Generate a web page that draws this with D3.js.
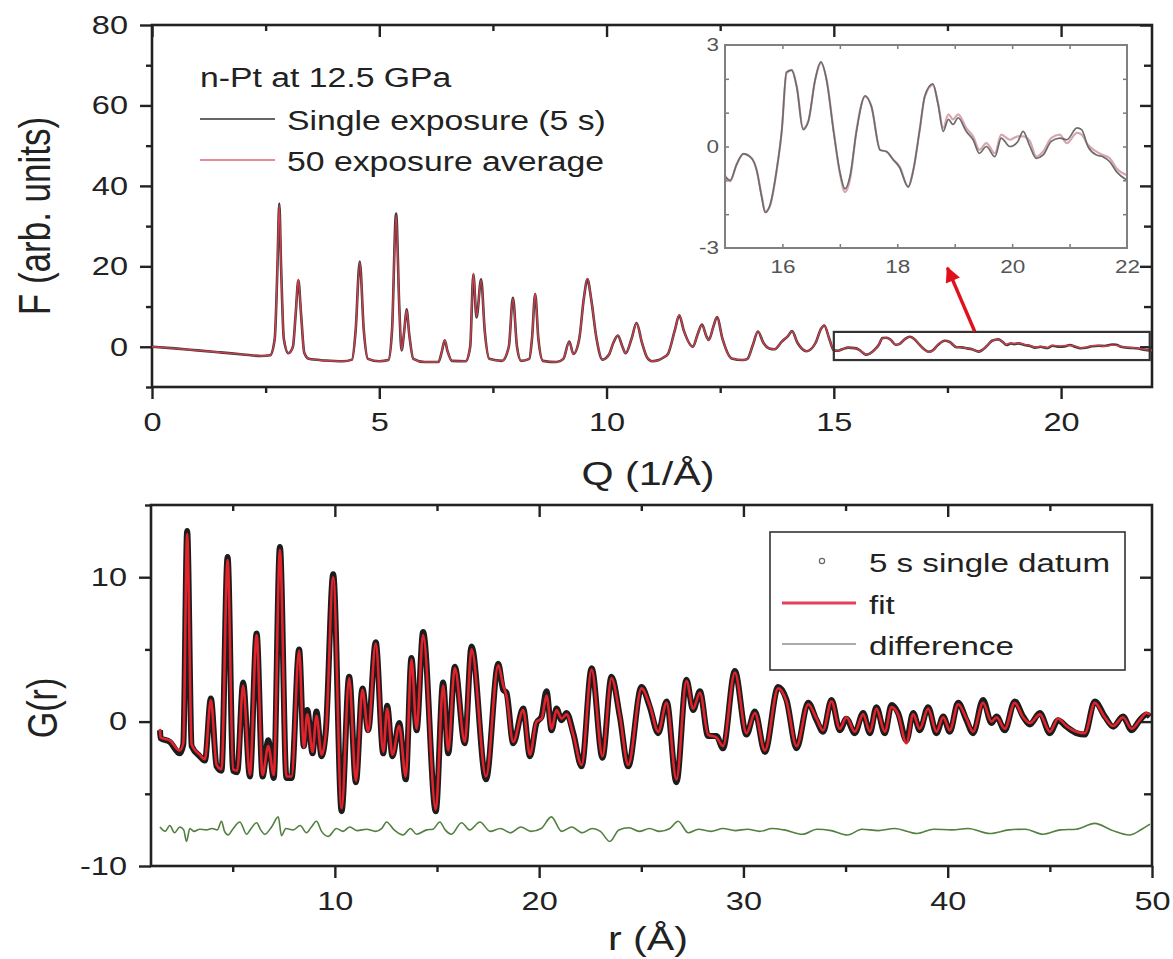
<!DOCTYPE html>
<html><head><meta charset="utf-8">
<script src="https://cdn.jsdelivr.net/npm/d3@7"></script>
<style>
body{margin:0;background:#fff;}
svg{display:block;}
</style></head><body>
<svg id="chart" width="1173" height="959"></svg>
<script>
// ---------------- DATA ----------------
// Top panel: F(Q)
const qVals = [0,0.5,1.0,1.5,2.0,2.4,2.6,2.7,2.76,2.8,
2.84,2.9,3.0,3.1,3.16,3.22,3.28,3.35,3.45,3.8,
4.2,4.4,4.48,4.57,4.66,4.75,5.0,5.2,5.28,5.37,
5.44,5.49,5.55,5.6,5.66,5.75,6.0,6.3,6.38,6.44,
6.5,6.6,6.9,7.0,7.07,7.14,7.24,7.32,7.42,7.7,
7.85,7.94,8.03,8.12,8.3,8.36,8.43,8.5,8.6,8.9,
9.05,9.18,9.27,9.4,9.5,9.58,9.66,9.78,9.91,10.05,
10.15,10.25,10.35,10.42,10.55,10.66,10.78,10.9,11.0,11.15,
11.26,11.35,11.5,11.6,11.7,11.9,12.0,12.1,12.2,12.25,
12.35,12.43,12.55,12.75,13.0,13.1,13.22,13.33,13.45,13.58,
13.7,13.85,14.0,14.08,14.2,14.4,14.6,14.72,14.79,14.9,
15.0,15.09,15.2,15.32,15.46,15.55,15.64,15.7,15.78,15.9,
15.99,16.07,16.16,16.25,16.36,16.45,16.57,16.67,16.77,16.89,
17.0,17.09,17.18,17.29,17.44,17.55,17.7,17.81,17.93,18.04,
18.19,18.28,18.39,18.48,18.62,18.71,18.8,18.89,18.97,19.06,
19.2,19.32,19.43,19.55,19.7,19.81,19.96,20.1,20.19,20.31,
20.42,20.54,20.68,20.83,20.95,21.13,21.21,21.32,21.47,21.58,
21.7,21.82,22.0];
const fAverage = [0,-0.4,-0.9,-1.4,-1.9,-2.3,-2.1,2,20,35.2,
20,2,-1.6,0,8,16.8,8,-1.5,-3.0,-3.4,
-3.6,-3.2,4,21,4,-3.0,-3.6,-3.3,4,32.8,
10,-0.8,4,9.1,3,-3.0,-3.8,-3.8,-1,1.7,
-1,-3.5,-3.6,0,18.3,7.5,16.6,4,-3.0,-3.5,
0,12,0,-3.5,-3.0,2,13.3,2,-3.5,-3.8,
-3,1.2,-1.8,2,12,17,12,2,-3.2,-2,
1,2.9,0,-1.6,2,5.8,1,-2.8,-3.6,-3.3,
-2.6,-1.8,4,7.9,4,0,3,5.4,2.5,1.7,
5,7.5,2,-2.9,-3.3,-3.0,0.5,3.9,1,-0.4,
-0.6,1.2,2.8,3.9,1,-1.1,1,4.5,5.4,2,
-0.85,-1.03,-0.54,-0.22,-0.34,-0.69,-1.47,-1.92,-1.77,-0.69,
0.49,2.16,2.26,1.77,0.54,0.74,1.97,2.46,1.97,0.49,
-0.79,-1.35,-0.95,0.49,1.47,1.18,-0.1,-0.15,-0.39,-0.59,
-1.18,-0.69,0.49,1.47,1.82,1.28,0.55,0.95,0.8,0.95,
0.55,0.3,-0.1,0.1,-0.2,0.35,0.2,0.3,0.3,0.15,
-0.3,-0.15,0.25,0.35,0.1,0.4,0.35,0.05,-0.15,-0.25,
-0.35,-0.65,-0.85];
const fSingle = [0,-0.4,-0.9,-1.4,-1.9,-2.3,-2.1,2,20,35.6,
20,2,-1.6,0,8,16.5,8,-1.5,-3.0,-3.4,
-3.6,-3.2,4,21.2,4,-3.0,-3.6,-3.3,4,33.1,
10,-0.9,4,9.3,3,-3.0,-3.8,-3.8,-1,1.6,
-1,-3.5,-3.6,0,18.0,7.3,16.8,4,-3.0,-3.5,
0,12.2,0,-3.5,-3.0,2,13.1,2,-3.5,-3.8,
-3,1.3,-1.8,2,12,16.8,12,2,-3.2,-2,
1,2.8,0,-1.6,2,5.9,1,-2.8,-3.6,-3.3,
-2.6,-1.8,4,7.8,4,0,3,5.5,2.5,1.7,
5,7.4,2,-2.9,-3.3,-3.0,0.5,3.8,1,-0.4,
-0.6,1.2,2.8,3.9,1,-1.1,1,4.5,5.3,2,
-0.9,-1.0,-0.54,-0.22,-0.34,-0.69,-1.5,-1.95,-1.75,-0.69,
0.49,2.2,2.26,1.75,0.5,0.74,1.97,2.5,1.95,0.45,
-0.75,-1.25,-0.85,0.45,1.5,1.18,-0.1,-0.15,-0.39,-0.62,
-1.2,-0.69,0.49,1.5,1.85,1.25,0.45,0.8,0.65,0.85,
0.45,0.2,-0.2,0.0,-0.3,0.25,0.0,0.15,0.45,0.0,
-0.35,-0.25,0.15,0.25,0.2,0.55,0.5,0.0,-0.25,-0.3,
-0.45,-0.75,-1.0];

// Bottom panel: G(r)
const rVals = [1.44,1.47,1.92,2.41,2.58,2.77,2.99,3.39,3.64,3.93,
4.21,4.45,4.75,5.02,5.22,5.51,5.84,6.17,6.46,6.74,
7.01,7.31,7.63,7.88,8.25,8.48,8.65,8.91,9.10,9.35,
9.56,9.92,10.33,10.70,11.03,11.35,11.63,12.00,12.37,12.56,
12.82,13.15,13.47,13.75,14.00,14.32,14.94,15.30,15.55,15.87,
16.36,16.69,17.4,18.0,18.24,18.4,18.73,19.22,19.55,19.87,
20.12,20.36,20.61,20.85,21.1,21.34,21.67,22.08,22.57,23.1,
23.54,23.95,24.36,25.01,25.42,25.83,26.24,26.72,27.21,27.54,
27.87,28.27,28.68,29.0,29.58,30.15,30.56,31.05,31.7,32.11,
32.6,33.17,33.58,33.9,34.31,34.72,35.04,35.45,35.86,36.19,
36.51,36.92,37.25,37.57,37.98,38.31,38.63,39.04,39.45,39.78,
40.1,40.51,40.92,41.24,41.73,42.14,42.39,42.79,43.28,43.69,
44.02,44.51,45.0,45.4,45.81,46.3,46.71,47.2,47.69,48.1,
48.58,49.0,49.4,49.73,49.9];
const gDatum = [-0.6,-1.15,-1.4,-2.2,-1.6,13.2,-1.7,-2.4,-2.7,1.6,
-3.1,-3.4,11.4,-3.4,-3.5,2.7,-3.8,6.1,-3.8,-1.3,
-3.9,12.1,-3.9,-3.9,5.0,-1.7,0.8,-2.2,0.7,-2.4,
-0.6,10.2,-6.2,3.1,-4.2,2.3,-0.6,5.5,-2.2,1.1,
-2.4,-0.1,-4.0,4.4,-0.6,6.2,-6.2,2.7,-2.2,3.8,
-1.5,5.2,-4.0,4.0,2.2,2.0,-1.5,0.9,-2.4,-0.1,
0.35,2.1,-0.6,0.9,0.1,0.6,-0.8,-3.1,3.7,-2.5,
3.1,0.35,-3.1,2.4,1.0,-0.8,1.4,-4.2,2.9,0.8,
2.1,-1.0,-1.0,-1.85,3.5,-0.9,0.7,-2.1,2.4,1.5,
-1.85,1.3,0.1,-0.7,1.5,-0.6,0.2,-0.8,0.6,-0.8,
1.0,-0.8,1.15,0.6,-1.3,0.6,-0.6,1.0,-0.8,0.35,
-0.7,1.3,0.1,-0.8,1.5,-0.1,0.35,-0.6,1.4,0.35,
-0.2,0.6,-0.8,0.1,-0.35,-0.8,-0.9,1.4,0.35,-0.35,
0.35,-0.6,0.1,0.5,0.35];
const gFit = [-0.5,-1.1,-1.3,-2.0,-1.5,13.0,-1.6,-2.3,-2.6,1.5,
-3.0,-3.3,11.2,-3.3,-3.4,2.5,-3.7,6.0,-3.7,-1.7,
-3.7,11.9,-3.8,-3.8,4.9,-1.8,0.5,-2.1,0.4,-2.3,
-0.8,10.0,-6.0,3.0,-4.1,2.2,-0.7,5.4,-2.1,0.9,
-2.3,-0.3,-3.8,4.3,-0.5,6.0,-6.1,2.5,-2.0,3.7,
-1.4,5.0,-3.8,3.9,2.5,1.8,-1.4,0.8,-2.3,0.0,
0.2,1.8,-0.5,0.8,0.2,0.5,-0.9,-3.0,3.6,-2.4,
3.0,0.4,-3.0,2.3,1.1,-0.7,1.3,-4.0,2.8,0.9,
2.0,-0.9,-1.1,-1.7,3.4,-0.8,0.6,-2.0,2.3,1.4,
-1.7,1.2,0.2,-0.6,1.4,-0.5,0.3,-0.7,0.5,-0.7,
0.9,-0.7,1.0,0.5,-1.5,0.5,-0.5,0.9,-0.7,0.3,
-0.6,1.2,0.2,-0.7,1.3,0.0,0.3,-0.5,1.3,0.3,
-0.1,0.5,-0.7,0.2,-0.3,-0.7,-0.8,1.3,0.3,-0.3,
0.3,-0.5,0.1,0.6,0.5];
const rDiff = [1.44,1.7,1.92,2.15,2.41,2.6,2.74,2.9,3.1,3.39,
3.7,4.0,4.25,4.45,4.6,4.78,5.0,5.35,5.68,5.9,
6.17,6.37,6.57,6.9,7.23,7.39,7.6,7.96,8.3,8.61,
8.85,9.1,9.35,9.67,10.08,10.4,10.73,11.1,11.55,12.0,
12.3,12.53,12.9,13.34,13.7,14.0,14.49,14.8,15.14,15.4,
15.71,16.2,16.6,17.1,17.6,18.1,18.6,19.1,19.6,20.1,
20.6,21.1,21.6,22.1,22.6,23.0,23.46,23.9,24.4,24.9,
25.4,25.9,26.4,26.8,27.3,27.8,28.4,29.0,29.6,30.2,
30.8,31.4,32.0,32.9,33.6,34.3,35.1,35.8,36.6,37.4,
38.5,39.3,40.2,41.0,42.06,43.0,43.8,44.67,45.5,46.3,
47.2,48.0,48.9,49.5,49.9];
const gDiff = [-7.3,-7.6,-7.2,-7.7,-7.3,-7.5,-8.3,-7.4,-7.6,-7.45,
-7.5,-7.4,-7.5,-6.9,-7.6,-7.85,-7.45,-6.95,-7.8,-7.4,
-7.0,-7.5,-7.8,-7.3,-6.6,-7.9,-7.4,-7.5,-7.2,-7.7,
-7.3,-6.9,-7.6,-7.95,-7.4,-7.6,-7.3,-7.55,-7.45,-7.6,
-7.4,-6.95,-7.5,-7.85,-7.4,-7.8,-7.5,-7.45,-6.95,-7.5,
-7.8,-7.0,-7.5,-6.95,-7.6,-7.4,-7.7,-7.3,-7.6,-7.4,
-6.6,-7.6,-7.3,-7.7,-7.4,-7.6,-8.3,-7.5,-7.35,-7.6,
-7.4,-7.6,-7.4,-6.9,-7.7,-7.45,-7.6,-7.4,-7.55,-7.45,
-7.6,-7.4,-7.5,-7.8,-7.45,-7.55,-7.85,-7.45,-7.55,-7.4,
-7.75,-7.45,-7.5,-7.4,-7.75,-7.5,-7.45,-7.8,-7.5,-7.45,
-7.05,-7.5,-7.85,-7.45,-7.1];

// ticks
const qMajor = [0,5,10,15,20], qMinor = [2.5,7.5,12.5,17.5];
const fMajor = [0,20,40,60,80], fMinor = [-10,10,30,50,70];
const insetXLabels = [16,18,20,22], insetXTicks = [16,17,18,19,20,21];
const insetYLabels = [-3,0,3], insetYTicks = [-2,-1,0,1,2];
const rMajor = [10,20,30,40,50], rMinor = [5,15,25,35,45];
const gMajor = [-10,0,10], gMinor = [-5,5,15];
// zoom box & arrow (data coords of main F(Q) panel)
const zoomBoxQ = [15, 21.95], zoomBoxF = [-3.3, 3.7];
const arrowFrom = [18.1, 3.8], arrowTo = [17.5, 19.6];

// ---------------- DRAWING ----------------
const SX = 1.25; // horizontal stretch of the original figure's lettering
const FONT = '"Liberation Sans", Arial, Helvetica, sans-serif';
const INK = "#222";
const svg = d3.select("#chart").attr("font-family", FONT);
const defs = svg.append("defs");

const fmt = d => String(d);

function addText(parent, x, y, str, size, opt = {}) {
  return parent.append("text")
    .attr("transform", `translate(${x},${y}) scale(${SX},1)` + (opt.rotate ? ` rotate(${opt.rotate})` : ""))
    .attr("font-size", size)
    .attr("text-anchor", opt.anchor || "start")
    .attr("fill", opt.fill || INK)
    .text(str);
}
function styleAxis(g, opt = {}) {
  g.select(".domain").remove();
  g.selectAll(".tick line").attr("stroke", opt.stroke || INK).attr("stroke-width", opt.sw || 2.4);
  g.selectAll(".tick text").attr("font-size", opt.fs || 26).attr("fill", opt.fill || INK)
    .attr("font-family", FONT);
}
function hText(g) { g.selectAll(".tick text").attr("transform", `scale(${SX},1)`); }
function vText(g, off) { g.selectAll(".tick text").attr("x", off / SX).attr("transform", `scale(${SX},1)`); }

// ===== TOP PANEL =====
const T = {l:152, r:1152, t:25, b:387};
const xQ = d3.scaleLinear().domain([0,22]).range([T.l, T.r]);
const yF = d3.scaleLinear().domain([-10,80]).range([T.b, T.t]);
const topG = svg.append("g");

topG.append("g").attr("transform", `translate(0,${T.b})`)
  .call(d3.axisBottom(xQ).tickValues(qMajor).tickSize(12).tickSizeOuter(0).tickPadding(14).tickFormat(fmt))
  .call(styleAxis).call(hText);
topG.append("g").attr("transform", `translate(0,${T.b})`)
  .call(d3.axisBottom(xQ).tickValues(qMinor).tickSize(6).tickSizeOuter(0).tickFormat(""))
  .call(styleAxis);
topG.append("g").attr("transform", `translate(0,${T.t})`)
  .call(d3.axisTop(xQ).tickValues(qMajor).tickSize(-12).tickSizeOuter(0).tickFormat(""))
  .call(styleAxis);
topG.append("g").attr("transform", `translate(0,${T.t})`)
  .call(d3.axisTop(xQ).tickValues(qMinor).tickSize(-6).tickSizeOuter(0).tickFormat(""))
  .call(styleAxis);
topG.append("g").attr("transform", `translate(${T.l},0)`)
  .call(d3.axisLeft(yF).tickValues(fMajor).tickSize(12).tickSizeOuter(0).tickFormat(fmt))
  .call(styleAxis).call(g => vText(g, -24));
topG.append("g").attr("transform", `translate(${T.l},0)`)
  .call(d3.axisLeft(yF).tickValues(fMinor).tickSize(6).tickSizeOuter(0).tickFormat(""))
  .call(styleAxis);
topG.append("g").attr("transform", `translate(${T.r},0)`)
  .call(d3.axisRight(yF).tickValues(fMajor).tickSize(-12).tickSizeOuter(0).tickFormat(""))
  .call(styleAxis);
topG.append("g").attr("transform", `translate(${T.r},0)`)
  .call(d3.axisRight(yF).tickValues(fMinor.filter(v => v > -10)).tickSize(-8).tickSizeOuter(0).tickFormat(""))
  .call(styleAxis);
topG.append("rect").attr("x", T.l).attr("y", T.t).attr("width", T.r - T.l).attr("height", T.b - T.t)
  .attr("fill", "none").attr("stroke", INK).attr("stroke-width", 2.6);

const lineF = arr => d3.line().x((d, i) => xQ(qVals[i])).y(d => yF(d)).curve(d3.curveMonotoneX)(arr);
topG.append("path").attr("d", lineF(fSingle)).attr("fill", "none").attr("stroke", "#3a3a3a").attr("stroke-width", 2.6);
topG.append("path").attr("d", lineF(fAverage)).attr("fill", "none").attr("stroke", "#d63c4c").attr("stroke-width", 1.4);

// zoom box
topG.append("rect").attr("x", xQ(zoomBoxQ[0])).attr("y", yF(zoomBoxF[1]))
  .attr("width", xQ(zoomBoxQ[1]) - xQ(zoomBoxQ[0])).attr("height", yF(zoomBoxF[0]) - yF(zoomBoxF[1]))
  .attr("fill", "none").attr("stroke", "#333").attr("stroke-width", 2.2);

// arrow
defs.append("marker").attr("id", "ah").attr("viewBox", "0 0 10 10").attr("refX", 9).attr("refY", 5)
  .attr("markerWidth", 5.5).attr("markerHeight", 4.5).attr("orient", "auto").attr("markerUnits", "strokeWidth")
  .append("path").attr("d", "M0,0 L10,5 L0,10 z").attr("fill", "#e0101c");
topG.append("line").attr("x1", xQ(arrowFrom[0])).attr("y1", yF(arrowFrom[1]))
  .attr("x2", xQ(arrowTo[0])).attr("y2", yF(arrowTo[1]))
  .attr("stroke", "#e0101c").attr("stroke-width", 3.4).attr("marker-end", "url(#ah)");

// legend (top)
addText(topG, 200, 87, "n-Pt at 12.5 GPa", 27);
topG.append("line").attr("x1", 200).attr("x2", 275).attr("y1", 119).attr("y2", 119).attr("stroke", "#333").attr("stroke-width", 1.6);
addText(topG, 287, 130, "Single exposure (5 s)", 27);
topG.append("line").attr("x1", 200).attr("x2", 275).attr("y1", 160).attr("y2", 160).attr("stroke", "#e06272").attr("stroke-width", 1.6);
addText(topG, 287, 171, "50 exposure average", 27);

// axis titles
addText(topG, 648, 485, "Q (1/Å)", 33, {anchor: "middle"});
addText(topG, 50, 216, "F (arb. units)", 35, {anchor: "middle", rotate: -90});

// ===== INSET =====
const I = {l:725, r:1127, t:45, b:248};
const xI = d3.scaleLinear().domain([15,22]).range([I.l, I.r]);
const yI = d3.scaleLinear().domain([-3,3]).range([I.b, I.t]);
const inset = svg.append("g");
inset.append("rect").attr("x", I.l).attr("y", I.t).attr("width", I.r - I.l).attr("height", I.b - I.t).attr("fill", "#fff");
const GR = "#7a7a7a";
const iax = (gen, tr) => inset.append("g").attr("transform", tr).call(gen);
iax(d3.axisBottom(xI).tickValues(insetXTicks).tickSize(-4).tickSizeOuter(0).tickFormat(""), `translate(0,${I.b})`).call(g => styleAxis(g, {stroke: GR, sw: 1.5}));
iax(d3.axisTop(xI).tickValues(insetXTicks).tickSize(-4).tickSizeOuter(0).tickFormat(""), `translate(0,${I.t})`).call(g => styleAxis(g, {stroke: GR, sw: 1.5}));
iax(d3.axisLeft(yI).tickValues(insetYTicks).tickSize(-4).tickSizeOuter(0).tickFormat(""), `translate(${I.l},0)`).call(g => styleAxis(g, {stroke: GR, sw: 1.5}));
iax(d3.axisRight(yI).tickValues(insetYTicks).tickSize(-4).tickSizeOuter(0).tickFormat(""), `translate(${I.r},0)`).call(g => styleAxis(g, {stroke: GR, sw: 1.5}));
iax(d3.axisBottom(xI).tickValues(insetXLabels).tickSize(0).tickSizeOuter(0).tickPadding(12).tickFormat(fmt), `translate(0,${I.b})`)
  .call(g => styleAxis(g, {fs: 18, fill: "#555"})).call(hText);
iax(d3.axisLeft(yI).tickValues(insetYLabels).tickSize(0).tickSizeOuter(0).tickFormat(fmt), `translate(${I.l},0)`)
  .call(g => styleAxis(g, {fs: 18, fill: "#555"})).call(g => vText(g, -6));

const idx = qVals.map((q, i) => i).filter(i => qVals[i] >= 15);
const lineI = arr => d3.line().x(i => xI(qVals[i])).y(i => yI(arr[i])).curve(d3.curveMonotoneX)(idx);
inset.append("path").attr("d", lineI(fAverage)).attr("fill", "none").attr("stroke", "#d8a6ae").attr("stroke-width", 2.2);
inset.append("path").attr("d", lineI(fSingle)).attr("fill", "none").attr("stroke", "#6c6c6c").attr("stroke-width", 1.7);
inset.append("rect").attr("x", I.l).attr("y", I.t).attr("width", I.r - I.l).attr("height", I.b - I.t)
  .attr("fill", "none").attr("stroke", "#808080").attr("stroke-width", 2);

// ===== BOTTOM PANEL =====
const B = {l:151, r:1152, t:505, b:866};
const xR = d3.scaleLinear().domain([1,50]).range([B.l, B.r]);
const yG = d3.scaleLinear().domain([-10,15]).range([B.b, B.t]);
const bot = svg.append("g");

bot.append("g").attr("transform", `translate(0,${B.b})`)
  .call(d3.axisBottom(xR).tickValues(rMajor).tickSize(12).tickSizeOuter(0).tickPadding(14).tickFormat(fmt))
  .call(styleAxis).call(hText);
bot.append("g").attr("transform", `translate(0,${B.b})`)
  .call(d3.axisBottom(xR).tickValues(rMinor).tickSize(6).tickSizeOuter(0).tickFormat(""))
  .call(styleAxis);
bot.append("g").attr("transform", `translate(0,${B.t})`)
  .call(d3.axisTop(xR).tickValues(rMajor.filter(v => v < 50)).tickSize(-12).tickSizeOuter(0).tickFormat(""))
  .call(styleAxis);
bot.append("g").attr("transform", `translate(0,${B.t})`)
  .call(d3.axisTop(xR).tickValues(rMinor).tickSize(-6).tickSizeOuter(0).tickFormat(""))
  .call(styleAxis);
bot.append("g").attr("transform", `translate(${B.l},0)`)
  .call(d3.axisLeft(yG).tickValues(gMajor).tickSize(12).tickSizeOuter(0).tickFormat(fmt))
  .call(styleAxis).call(g => vText(g, -24));
bot.append("g").attr("transform", `translate(${B.l},0)`)
  .call(d3.axisLeft(yG).tickValues(gMinor).tickSize(6).tickSizeOuter(0).tickFormat(""))
  .call(styleAxis);
bot.append("g").attr("transform", `translate(${B.r},0)`)
  .call(d3.axisRight(yG).tickValues([0,10]).tickSize(-12).tickSizeOuter(0).tickFormat(""))
  .call(styleAxis);
bot.append("g").attr("transform", `translate(${B.r},0)`)
  .call(d3.axisRight(yG).tickValues([-5,5]).tickSize(-8).tickSizeOuter(0).tickFormat(""))
  .call(styleAxis);

const lineG = (xs, ys) => d3.line().x((d, i) => xR(xs[i])).y(d => yG(d)).curve(d3.curveMonotoneX)(ys);
bot.append("path").attr("d", lineG(rDiff, gDiff)).attr("fill", "none").attr("stroke", "#52803f").attr("stroke-width", 1.6);
bot.append("path").attr("d", lineG(rVals, gDatum)).attr("fill", "none").attr("stroke", "#1c1c1c")
  .attr("stroke-width", 6).attr("stroke-linejoin", "round");
bot.append("path").attr("d", lineG(rVals, gFit)).attr("fill", "none").attr("stroke", "#e3232c")
  .attr("stroke-width", 2.6).attr("stroke-linejoin", "round");

bot.append("rect").attr("x", B.l).attr("y", B.t).attr("width", B.r - B.l).attr("height", B.b - B.t)
  .attr("fill", "none").attr("stroke", INK).attr("stroke-width", 2.6);

// legend (bottom)
const lg = bot.append("g");
lg.append("rect").attr("x", 770).attr("y", 532).attr("width", 355).attr("height", 138)
  .attr("fill", "#fff").attr("stroke", "#333").attr("stroke-width", 1.6);
lg.append("circle").attr("cx", 822).attr("cy", 561).attr("r", 2.6).attr("fill", "none").attr("stroke", "#666").attr("stroke-width", 1.2);
addText(lg, 869, 572, "5 s single datum", 26.5);
lg.append("line").attr("x1", 782).attr("x2", 856).attr("y1", 603).attr("y2", 603).attr("stroke", "#e4405a").attr("stroke-width", 3);
addText(lg, 869, 614, "fit", 26.5);
lg.append("line").attr("x1", 782).attr("x2", 856).attr("y1", 644).attr("y2", 644).attr("stroke", "#aaaaaa").attr("stroke-width", 2);
addText(lg, 869, 655, "difference", 26.5);

addText(bot, 648, 950, "r (Å)", 33, {anchor: "middle"});
addText(bot, 57, 708, "G(r)", 34, {anchor: "middle", rotate: -90});
</script>
</body></html>
